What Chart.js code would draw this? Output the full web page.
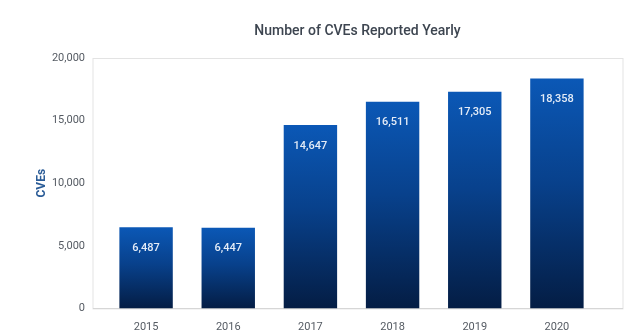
<!DOCTYPE html>
<html>
<head>
<meta charset="utf-8">
<script src="https://cdn.jsdelivr.net/npm/chart.js@4/dist/chart.umd.min.js"></script>
<style>
  html, body { margin: 0; padding: 0; background: #fff; }
  #wrap { width: 640px; height: 335px; position: relative; }
</style>
</head>
<body>
<div id="wrap"><canvas id="grafico"></canvas></div>
<script>
const anos = ['2015', '2016', '2017', '2018', '2019', '2020'];
const cves = [6487, 6447, 14647, 16511, 17305, 18358];
const titulo = 'Number of CVEs Reported Yearly';
const tituloEixoY = 'CVEs';

// Moldura cinza em volta da area do grafico
const moldura = {
    id: 'moldura',
    beforeDraw(chart) {
        const a = chart.chartArea;
        const ctx = chart.ctx;
        ctx.save();
        ctx.strokeStyle = '#e3e3e3';
        ctx.lineWidth = 1;
        ctx.strokeRect(a.left - 12, a.top + 0.5, a.right - a.left + 37, a.bottom - a.top);
        ctx.strokeStyle = '#d6d6d6';
        ctx.beginPath();
        ctx.moveTo(a.left - 12, Math.round(a.bottom) + 0.5);
        ctx.lineTo(a.right + 25, Math.round(a.bottom) + 0.5);
        ctx.stroke();
        // titulo
        ctx.fillStyle = '#3d4550';
        ctx.font = '500 14px Roboto';
        ctx.textAlign = 'center';
        ctx.textBaseline = 'middle';
        ctx.fillText(titulo, (a.left + a.right) / 2 + 6, 31);
        ctx.restore();
    }
};

// Valores dentro das barras
const rotulos = {
    id: 'rotulos',
    afterDatasetsDraw(chart) {
        const ctx = chart.ctx;
        const meta = chart.getDatasetMeta(0);
        ctx.save();
        ctx.fillStyle = '#e4ecf7';
        ctx.font = '500 11px Roboto';
        ctx.textAlign = 'center';
        ctx.textBaseline = 'middle';
        meta.data.forEach((bar, i) => {
            ctx.fillText(cves[i].toLocaleString('en-US'), bar.x, bar.y + 21);
        });
        ctx.restore();
    }
};

function gradiente(context) {
    const chart = context.chart;
    const y = chart.scales.y;
    if (!chart.chartArea || !y) return '#0a4d9f';
    const topo = y.getPixelForValue(context.raw);
    const base = y.getPixelForValue(0);
    const g = chart.ctx.createLinearGradient(0, topo, 0, base);
    g.addColorStop(0, '#0b58b6');
    g.addColorStop(0.45, '#08418c');
    g.addColorStop(1, '#041d44');
    return g;
}

new Chart(document.getElementById('grafico'), {
    type: 'bar',
    data: {
        labels: anos,
        datasets: [{
            data: cves,
            backgroundColor: gradiente,
            categoryPercentage: 1,
            barPercentage: 0.65
        }]
    },
    options: {
        responsive: true,
        maintainAspectRatio: false,
        animation: false,
        layout: { padding: { left: 35, right: 42, top: 58, bottom: 0 } },
        plugins: {
            legend: { display: false },
            tooltip: { enabled: false }
        },
        scales: {
            y: {
                min: 0,
                max: 20000,
                ticks: {
                    stepSize: 5000,
                    padding: 20,
                    color: '#555b63',
                    font: { family: 'Roboto', size: 11 },
                    callback: v => v.toLocaleString('en-US')
                },
                grid: { display: false, drawTicks: false },
                border: { display: false },
                title: {
                    display: true,
                    text: tituloEixoY,
                    color: '#2b5c97',
                    font: { family: 'Roboto', size: 12, weight: 'bold' },
                    padding: { top: 0, bottom: 0 }
                },
                afterFit: s => { s.width = 70; }
            },
            x: {
                ticks: {
                    padding: 4,
                    color: '#555b63',
                    font: { family: 'Roboto', size: 11 }
                },
                grid: { display: false },
                border: { display: false },
                afterFit: s => { s.height = 25; }
            }
        }
    },
    plugins: [moldura, rotulos]
});
</script>
</body>
</html>
